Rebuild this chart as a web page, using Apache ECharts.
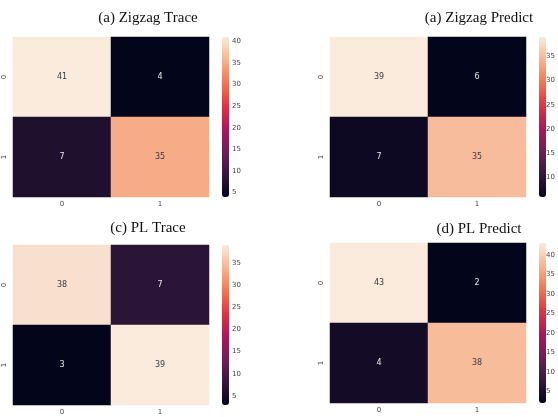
<!DOCTYPE html>
<html>
<head>
<meta charset="utf-8">
<script src="https://cdn.jsdelivr.net/npm/echarts@6/dist/echarts.min.js"></script>
<style>
  html, body { margin: 0; padding: 0; background: #fff; }
  #chart { width: 558px; height: 417px; }
</style>
</head>
<body>
<div id="chart"></div>
<script>
// confusion matrices, rows = true class, cols = predicted
const xLabels = ["0", "1"];
const yLabels = ["0", "1"];
const zigzagTrace = [[41, 4], [7, 35]];
const zigzagPredict = [[39, 6], [7, 35]];
const plTrace = [[38, 7], [3, 39]];
const plPredict = [[43, 2], [4, 38]];
const titles = ["(a) Zigzag Trace", "(a) Zigzag Predict", "(c) PL Trace", "(d) PL Predict"];
const ticksA = [5, 10, 15, 20, 25, 30, 35, 40];
const ticksB = [10, 15, 20, 25, 30, 35];
const ticksC = [5, 10, 15, 20, 25, 30, 35];
const ticksD = [5, 10, 15, 20, 25, 30, 35, 40];

// seaborn "rocket"
const rocket = ["#03051a", "#35193e", "#701f57", "#ad1759", "#e13342", "#f37651", "#f6b48f", "#faebdd"];

const panels = [
  { m: zigzagTrace, ticks: ticksA, left: 13, top: 37, h: 160, cbLeft: 222 },
  { m: zigzagPredict, ticks: ticksB, left: 330, top: 37, h: 160, cbLeft: 539 },
  { m: plTrace, ticks: ticksC, left: 13, top: 245, h: 160, cbLeft: 222 },
  { m: plPredict, ticks: ticksD, left: 330, top: 243, h: 160, cbLeft: 539 }
];
const titlePos = [[143, 6], [474, 6], [143, 216], [474, 217]];

const chart = echarts.init(document.getElementById("chart"));
const tickFont = { fontFamily: "DejaVu Sans", fontSize: 7, color: "#444" };

const grid = [], xAxis = [], yAxis = [], series = [], visualMap = [], title = [];
panels.forEach((p, i) => {
  const flat = p.m.flat();
  const vmin = Math.min(...flat), vmax = Math.max(...flat);
  const data = [];
  p.m.forEach((row, r) => {
    row.forEach((v, c) => {
      const t = (v - vmin) / (vmax - vmin);
      data.push({ value: [c, r, v], label: { color: t > 0.6 ? "#3a3a3a" : "#e8e8e8" } });
    });
  });

  title.push({
    text: titles[i],
    left: titlePos[i][0],
    top: titlePos[i][1],
    textAlign: "center",
    textStyle: { fontFamily: "Liberation Serif", fontSize: 15, fontWeight: "normal", color: "#111" }
  });

  // heatmap grid
  grid.push({ left: p.left, top: p.top, width: 196, height: p.h });
  xAxis.push({
    type: "category", gridIndex: 2 * i, data: xLabels,
    axisLine: { show: false },
    axisTick: { alignWithLabel: true, length: 3, lineStyle: { color: "#555" } },
    axisLabel: Object.assign({ margin: 4 }, tickFont),
    splitArea: { show: false }
  });
  yAxis.push({
    type: "category", gridIndex: 2 * i, data: yLabels, inverse: true,
    axisLine: { show: false },
    axisTick: { alignWithLabel: true, length: 3, lineStyle: { color: "#555" } },
    axisLabel: Object.assign({ margin: 5, rotate: 90 }, tickFont)
  });

  // colorbar axis grid
  grid.push({ left: p.cbLeft, top: p.top, width: 7, height: p.h });
  xAxis.push({ type: "value", gridIndex: 2 * i + 1, show: false, min: 0, max: 1 });
  yAxis.push({
    type: "value", gridIndex: 2 * i + 1, position: "right", min: vmin, max: vmax,
    axisLine: { show: false },
    splitLine: { show: false },
    axisTick: { show: true, length: 3, customValues: p.ticks, lineStyle: { color: "#555" } },
    axisLabel: Object.assign({ margin: 3, customValues: p.ticks }, tickFont)
  });

  series.push({
    type: "heatmap",
    xAxisIndex: 2 * i, yAxisIndex: 2 * i,
    data: data,
    label: { show: true, fontFamily: "DejaVu Sans", fontSize: 8 },
    itemStyle: { borderWidth: 0 },
    emphasis: { disabled: true }
  });
  series.push({
    type: "line", xAxisIndex: 2 * i + 1, yAxisIndex: 2 * i + 1,
    data: [], silent: true
  });

  visualMap.push({
    type: "continuous",
    seriesIndex: 2 * i,
    dimension: 2,
    min: vmin, max: vmax,
    left: p.cbLeft, top: p.top,
    itemWidth: 7, itemHeight: p.h,
    padding: 0,
    calculable: false,
    hoverLink: false,
    text: null,
    inRange: { color: rocket }
  });
});

chart.setOption({
  backgroundColor: "#fff",
  animation: false,
  title: title,
  grid: grid,
  xAxis: xAxis,
  yAxis: yAxis,
  visualMap: visualMap,
  series: series
});
</script>
</body>
</html>
